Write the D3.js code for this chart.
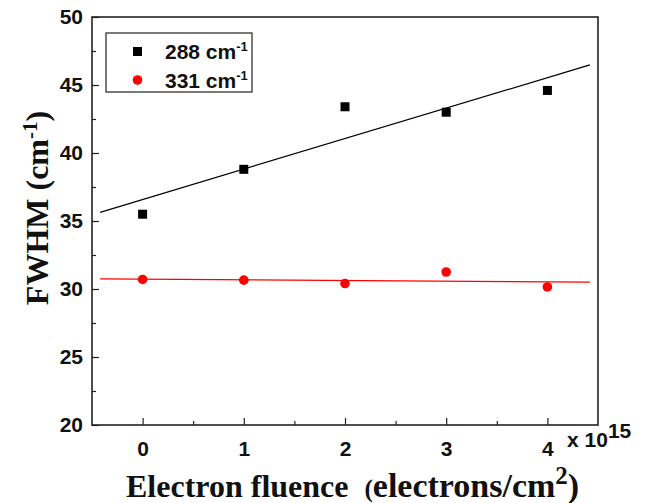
<!DOCTYPE html>
<html>
<head>
<meta charset="utf-8">
<script src="https://cdn.jsdelivr.net/npm/d3@7"></script>
<style>
  body { margin: 0; background: #fff; }
  svg { display: block; }
</style>
</head>
<body>
<svg id="chart"></svg>
<script>
// fluence in units of 1e15 electrons/cm^2
let fluence = [0, 1, 2, 3, 4];
let fwhm288 = [35.5, 38.8, 43.4, 43.0, 44.6];
let fwhm331 = [30.7, 30.65, 30.4, 31.25, 30.15];
let seriesNames = ["288 cm", "331 cm"];
let xTicks = [0, 1, 2, 3, 4];
let yTicks = [20, 25, 30, 35, 40, 45, 50];

let width = 645, height = 503;
let frame = {left: 92, right: 598, top: 17, bottom: 425};

let svg = d3.select("#chart")
    .attr("width", width)
    .attr("height", height);

let x = d3.scaleLinear().domain([-0.5, 4.5]).range([frame.left, frame.right]);
let y = d3.scaleLinear().domain([20, 50]).range([frame.bottom, frame.top]);

// least squares line, like the linear fit in the original plot
function linearFit(xs, ys) {
    let n = xs.length;
    let mx = d3.mean(xs), my = d3.mean(ys);
    let num = 0, den = 0;
    for (let i = 0; i < n; i++) {
        num += (xs[i] - mx) * (ys[i] - my);
        den += (xs[i] - mx) * (xs[i] - mx);
    }
    let slope = num / den;
    return {slope: slope, intercept: my - slope * mx};
}

let tickFont = "bold 21px 'Liberation Sans', Arial, sans-serif";

// axes with inward ticks
svg.append("g")
    .attr("transform", "translate(" + frame.left + ",0)")
    .call(d3.axisLeft(y).tickValues(yTicks).tickSize(-7).tickPadding(9).tickFormat(d3.format("d")));
svg.append("g")
    .attr("transform", "translate(" + frame.left + ",0)")
    .call(d3.axisLeft(y).tickValues(d3.range(22.5, 50, 5)).tickSize(-4).tickFormat(""));

svg.append("g")
    .attr("transform", "translate(0," + frame.bottom + ")")
    .call(d3.axisBottom(x).tickValues(xTicks).tickSize(-7).tickPadding(16).tickFormat(d3.format("d")));
svg.append("g")
    .attr("transform", "translate(0," + frame.bottom + ")")
    .call(d3.axisBottom(x).tickValues(d3.range(0.5, 4.5, 1)).tickSize(-4).tickFormat(""));

svg.selectAll(".domain").remove();
svg.selectAll(".tick line").attr("stroke", "#222").attr("stroke-width", 1.2);
svg.selectAll(".tick text").style("font", tickFont).attr("fill", "#111");

// frame
svg.append("rect")
    .attr("x", frame.left)
    .attr("y", frame.top)
    .attr("width", frame.right - frame.left)
    .attr("height", frame.bottom - frame.top)
    .attr("fill", "none")
    .attr("stroke", "#222")
    .attr("stroke-width", 1.6);

// fit lines
let fitRange = [-0.42, 4.42];
let fits = [
    {data: fwhm288, color: "#000"},
    {data: fwhm331, color: "#ff0000"}
];
fits.forEach(function (f) {
    let fit = linearFit(fluence, f.data);
    svg.append("line")
        .attr("x1", x(fitRange[0]))
        .attr("y1", y(fit.intercept + fit.slope * fitRange[0]))
        .attr("x2", x(fitRange[1]))
        .attr("y2", y(fit.intercept + fit.slope * fitRange[1]))
        .attr("stroke", f.color)
        .attr("stroke-width", 1.2);
});

// markers
svg.append("g").selectAll("rect")
    .data(fluence)
    .enter().append("rect")
    .attr("x", function (d) { return x(d) - 4.5; })
    .attr("y", function (d, i) { return y(fwhm288[i]) - 4.5; })
    .attr("width", 9)
    .attr("height", 9)
    .attr("fill", "#000");

svg.append("g").selectAll("circle")
    .data(fluence)
    .enter().append("circle")
    .attr("cx", function (d) { return x(d); })
    .attr("cy", function (d, i) { return y(fwhm331[i]); })
    .attr("r", 4.8)
    .attr("fill", "#ff0000");

// legend
let legend = svg.append("g");
legend.append("rect")
    .attr("x", 106).attr("y", 33)
    .attr("width", 146).attr("height", 59)
    .attr("fill", "#fff")
    .attr("stroke", "#222")
    .attr("stroke-width", 1.2);
legend.append("rect")
    .attr("x", 133).attr("y", 47)
    .attr("width", 9).attr("height", 9)
    .attr("fill", "#000");
legend.append("circle")
    .attr("cx", 137.5).attr("cy", 80)
    .attr("r", 4.8)
    .attr("fill", "#ff0000");
seriesNames.forEach(function (name, i) {
    let t = legend.append("text")
        .attr("x", 165)
        .attr("y", 59 + i * 29)
        .style("font", tickFont)
        .attr("fill", "#111");
    t.append("tspan").text(name);
    t.append("tspan").attr("dy", -8).style("font-size", "13px").text("-1");
});

// x multiplier
let mult = svg.append("text")
    .attr("x", 567)
    .attr("y", 447)
    .style("font", tickFont)
    .attr("fill", "#111");
mult.append("tspan").text("x 10");
mult.append("tspan").attr("dy", -9).text("15");

// axis titles
let serif = "'Liberation Serif', 'Times New Roman', serif";
let xTitle = svg.append("text")
    .attr("x", 126)
    .attr("y", 497)
    .style("font-family", serif)
    .style("font-weight", "bold")
    .style("font-size", "32px")
    .attr("fill", "#111");
xTitle.append("tspan").text("Electron fluence");
xTitle.append("tspan").attr("dx", 16).style("font-size", "25px").text("(");
xTitle.append("tspan").style("font-size", "34px").text("electrons/cm");
xTitle.append("tspan").attr("dy", -13).style("font-size", "25px").text("2");
xTitle.append("tspan").attr("dy", 13).style("font-size", "34px").text(")");

let yTitle = svg.append("text")
    .attr("transform", "translate(48,208) rotate(-90)")
    .attr("text-anchor", "middle")
    .style("font-family", serif)
    .style("font-weight", "bold")
    .style("font-size", "32px")
    .attr("fill", "#111");
yTitle.append("tspan").text("FWHM (cm");
yTitle.append("tspan").attr("dy", -11).style("font-size", "21px").text("-1");
yTitle.append("tspan").attr("dy", 11).text(")");
</script>
</body>
</html>
